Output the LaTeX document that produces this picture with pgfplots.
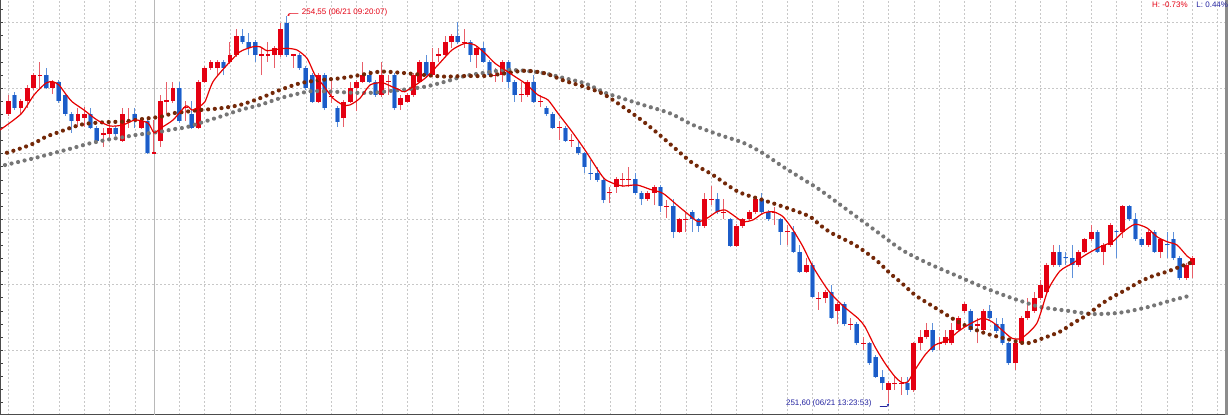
\documentclass[border=0pt]{standalone}
\usepackage{pgfplots}
\pgfplotsset{compat=1.18}
\usepackage{pgfplotstable}
\usepackage{fontspec}
\setmainfont{Liberation Sans}
\usetikzlibrary{arrows.meta}
\definecolor{cred}{RGB}{228,0,18}
\definecolor{credwick}{RGB}{232,95,105}
\definecolor{cblue}{RGB}{28,92,200}
\definecolor{cblueedge}{RGB}{125,170,232}
\definecolor{cbluewick}{RGB}{95,145,218}
\definecolor{cbrown}{RGB}{115,40,8}
\definecolor{cgray}{RGB}{118,118,118}
\definecolor{cma}{RGB}{230,0,0}
\definecolor{gridc}{RGB}{200,200,200}
\definecolor{cnavy}{RGB}{35,35,160}

% up candles (red): x open high low close
\pgfplotstableread{
x o h l c
1 253.803 253.948 253.788 253.902
3 253.849 253.917 253.803 253.902
4 253.902 254.024 253.851 254.003
5 254.003 254.116 253.986 254.100
6 254.096 254.202 254.003 254.104
8 254.003 254.062 253.955 254.049
12 253.749 253.851 253.706 253.803
13 253.772 253.856 253.704 253.803
16 253.646 253.698 253.553 253.654
17 253.648 253.749 253.599 253.698
19 253.599 253.851 253.589 253.803
20 253.745 253.851 253.698 253.753
22 253.698 253.765 253.688 253.749
24 253.501 253.757 253.498 253.509
25 253.599 253.948 253.553 253.902
26 253.898 254.049 253.803 253.906
27 253.902 254.049 253.887 254.003
29 253.847 253.902 253.749 253.855
31 253.698 254.062 253.688 254.049
32 254.049 254.169 254.039 254.152
33 254.154 254.215 254.139 254.200
34 254.154 254.215 254.100 254.200
36 254.200 254.352 254.184 254.253
37 254.253 254.452 254.238 254.398
41 254.249 254.307 254.100 254.257
42 254.249 254.352 254.200 254.257
43 254.253 254.322 254.154 254.307
44 254.253 254.497 254.238 254.452
46 254.249 254.262 254.154 254.257
50 253.897 254.116 253.887 254.100
52 253.929 254.062 253.887 253.937
54 253.772 253.910 253.706 253.897
55 253.897 254.049 253.887 253.999
56 253.999 254.062 253.826 254.049
57 254.049 254.202 254.039 254.100
60 253.948 254.202 253.933 254.100
61 254.045 254.100 253.948 254.053
63 253.872 253.948 253.833 253.925
64 253.897 253.963 253.887 253.948
65 253.948 254.116 253.933 254.100
66 254.049 254.215 254.039 254.202
68 254.100 254.307 254.085 254.202
69 254.249 254.307 254.200 254.257
70 254.253 254.398 254.238 254.350
71 254.350 254.413 254.307 254.400
73 254.346 254.452 254.307 254.354
75 254.253 254.322 254.154 254.304
78 254.096 254.154 254.049 254.104
79 254.100 254.215 254.049 254.202
82 253.944 254.049 253.897 253.952
83 253.948 254.062 253.933 254.049
85 253.893 253.948 253.856 253.901
88 253.694 253.749 253.604 253.702
90 253.600 253.650 253.553 253.608
96 253.196 253.248 253.123 253.204
97 253.248 253.322 253.200 253.304
98 253.300 253.352 253.248 253.308
99 253.300 253.400 253.248 253.308
102 253.152 253.215 253.139 253.202
103 253.202 253.261 253.108 253.248
105 253.096 253.146 253.009 253.104
107 252.904 253.009 252.894 252.999
108 252.995 253.047 252.904 253.003
111 252.948 253.202 252.933 253.152
112 253.148 253.253 253.108 253.156
114 253.048 253.152 252.999 253.056
116 252.797 252.963 252.788 252.948
117 252.948 253.009 252.933 252.999
118 252.999 253.070 252.986 253.052
119 253.052 253.162 253.039 253.152
122 253.048 253.095 252.955 253.056
124 252.900 252.955 252.803 252.908
127 252.599 252.701 252.589 252.650
129 252.392 252.446 252.307 252.400
130 252.396 252.459 252.358 252.446
132 252.299 252.368 252.197 252.352
134 252.193 252.248 252.154 252.201
136 252.048 252.103 252.001 252.056
140 251.696 251.765 251.600 251.747
141 251.743 251.797 251.696 251.751
142 251.743 251.797 251.658 251.751
144 251.696 252.062 251.681 252.052
145 252.052 252.154 252.001 252.098
146 252.098 252.205 252.085 252.154
148 252.048 252.103 252.001 252.056
149 252.052 252.154 252.039 252.098
150 252.052 252.205 252.039 252.154
151 252.154 252.261 252.139 252.248
152 252.299 252.368 252.284 252.352
154 252.188 252.248 252.052 252.196
155 252.154 252.314 252.139 252.299
160 251.900 252.062 251.849 252.052
161 252.052 252.261 252.039 252.248
162 252.248 252.396 252.230 252.299
163 252.299 252.446 252.284 252.396
164 252.396 252.536 252.383 252.497
165 252.446 252.665 252.436 252.650
166 252.650 252.803 252.635 252.752
170 252.650 252.765 252.635 252.752
171 252.752 252.856 252.742 252.846
172 252.846 252.955 252.833 252.904
174 252.752 252.818 252.650 252.803
175 252.803 252.971 252.788 252.955
177 252.904 253.108 252.856 253.100
181 252.803 252.917 252.788 252.904
183 252.752 252.856 252.701 252.846
187 252.549 252.665 252.536 252.650
188 252.650 252.719 252.549 252.701
}\redtab

% down candles (blue): x open high low close
\pgfplotstableread{
x o h l c
2 253.950 253.971 253.833 253.851
7 254.100 254.154 253.994 254.003
9 254.049 254.062 253.887 253.902
10 253.950 253.963 253.788 253.803
11 253.803 253.818 253.658 253.749
14 253.803 253.851 253.688 253.698
15 253.698 253.711 253.589 253.599
18 253.698 253.711 253.635 253.648
21 253.803 253.851 253.698 253.749
23 253.749 253.765 253.501 253.503
28 254.003 254.049 253.734 253.749
30 253.803 253.902 253.688 253.698
35 254.200 254.215 254.100 254.154
38 254.398 254.452 254.337 254.352
39 254.352 254.421 254.253 254.307
40 254.352 254.368 254.200 254.253
45 254.500 254.550 254.238 254.253
47 254.253 254.268 254.139 254.152
48 254.152 254.169 253.986 253.999
49 254.100 254.116 253.887 253.897
51 254.100 254.116 253.833 253.846
53 253.846 253.864 253.706 253.744
58 254.100 254.139 254.039 254.049
59 254.049 254.062 253.933 253.948
62 254.100 254.116 253.833 253.846
67 254.202 254.253 254.085 254.100
72 254.400 254.507 254.337 254.350
74 254.350 254.368 254.202 254.253
76 254.304 254.352 254.192 254.202
77 254.202 254.215 254.085 254.100
80 254.202 254.215 254.001 254.049
81 254.049 254.062 253.897 253.948
84 254.049 254.100 253.887 253.897
86 253.851 253.864 253.788 253.800
87 253.800 253.818 253.688 253.698
89 253.698 253.711 253.589 253.599
91 253.553 253.604 253.490 253.503
92 253.503 253.513 253.352 253.400
93 253.356 253.452 253.299 253.348
94 253.350 253.400 253.284 253.299
95 253.299 253.314 253.123 253.146
100 253.304 253.352 253.184 253.197
101 253.202 253.215 253.108 253.152
104 253.248 253.261 253.057 253.100
106 253.100 253.154 252.856 252.904
109 253.052 253.070 252.904 252.999
110 252.999 253.009 252.904 252.948
113 253.152 253.202 253.039 253.052
115 252.999 253.009 252.788 252.797
120 253.152 253.202 253.039 253.052
121 253.052 253.070 252.986 252.999
123 252.999 253.009 252.803 252.904
125 252.904 252.948 252.742 252.752
126 252.752 252.803 252.589 252.599
128 252.650 252.665 252.398 252.408
131 252.446 252.497 252.238 252.248
133 252.352 252.368 252.184 252.197
135 252.197 252.215 252.039 252.052
137 252.052 252.062 251.887 251.900
138 251.950 251.963 251.788 251.797
139 251.797 251.849 251.696 251.747
143 251.747 251.797 251.658 251.696
147 252.154 252.205 251.986 252.001
153 252.299 252.314 252.139 252.154
156 252.299 252.345 252.230 252.248
157 252.197 252.248 252.131 252.146
158 252.197 252.248 252.039 252.052
159 252.052 252.062 251.887 251.900
167 252.752 252.803 252.635 252.650
168 252.708 252.752 252.650 252.700
169 252.701 252.803 252.549 252.650
173 252.904 252.917 252.742 252.752
176 252.908 252.917 252.701 252.900
178 253.100 253.108 252.986 252.999
179 252.999 253.047 252.833 252.846
180 252.846 252.864 252.788 252.803
182 252.904 252.917 252.742 252.752
184 252.807 252.904 252.701 252.799
185 252.846 252.904 252.688 252.701
186 252.701 252.719 252.536 252.549
}\bluetab

\begin{document}
\begin{tikzpicture}
\begin{axis}[
  at={(0,0)}, anchor=south west,
  scale only axis, width=1225pt, height=415pt,
  xmin=-0.311, xmax=193.12, ymin=251.505, ymax=254.673,
  enlargelimits=false, clip=false,
  axis x line*=bottom, axis y line*=left,
  axis line style={draw=black!70, line width=1pt},
  xtick={1,5,9,13,17,21,28,32,...,192}, xticklabels={},
  xtick style={draw=none},
  extra x ticks={24}, extra x tick labels={},
  extra x tick style={grid=major, major grid style={solid, draw=black!28, line width=0.9pt}},
  ytick={252,252.5,...,254.5}, yticklabels={},
  minor ytick={251.6,251.7,...,254.6},
  ytick style={draw=black!75, line width=0.6pt},
  tick align=inside, major tick length=3pt, minor tick length=3pt,
  grid=major,
  major grid style={draw=gridc, line width=0.8pt, dash pattern=on 2pt off 2pt},
]
% wicks
\addplot[draw=none, mark=none, forget plot,
  error bars/.cd, y dir=plus, y explicit, error mark=none,
  error bar style={line width=1pt, draw=credwick, solid}]
  table[x=x, y=l, y error plus expr=\thisrow{h}-\thisrow{l}] {\redtab};
\addplot[draw=none, mark=none, forget plot,
  error bars/.cd, y dir=plus, y explicit, error mark=none,
  error bar style={line width=1pt, draw=cbluewick, solid}]
  table[x=x, y=l, y error plus expr=\thisrow{h}-\thisrow{l}] {\bluetab};
% bodies
\addplot[draw=none, mark=none, forget plot,
  error bars/.cd, y dir=plus, y explicit, error mark=none,
  error bar style={line width=4.9pt, draw=cred, solid}]
  table[x=x, y=o, y error plus expr=\thisrow{c}-\thisrow{o}] {\redtab};
\addplot[draw=none, mark=none, forget plot,
  error bars/.cd, y dir=plus, y explicit, error mark=none,
  error bar style={line width=5pt, draw=cblueedge, solid}]
  table[x=x, y=c, y error plus expr=\thisrow{o}-\thisrow{c}] {\bluetab};
\addplot[draw=none, mark=none, forget plot,
  error bars/.cd, y dir=plus, y explicit, error mark=none,
  error bar style={line width=3.6pt, draw=cblue, solid}]
  table[x=x, y=c, y error plus expr=\thisrow{o}-\thisrow{c}] {\bluetab};

% long moving average (gray dots)
\addplot[cgray, line width=4.2pt, line cap=round, dash pattern=on 0pt off 6.7pt, smooth, tension=0.5] coordinates {
(0.48,253.413) (5.06,253.465) (8.06,253.503) (11.06,253.541) (13.90,253.579)
(17.06,253.610) (19.11,253.625) (21.01,253.642) (23.06,253.655) (25.11,253.668)
(27.01,253.686) (29.06,253.701) (31.27,253.734) (34.43,253.782) (37.59,253.833)
(40.74,253.872) (43.90,253.923) (47.06,253.961) (49.11,253.978) (52.27,253.973)
(55.43,253.965) (58.59,253.965) (61.74,253.981) (63.64,253.990) (66.80,254.011)
(69.96,254.049) (73.11,254.093) (76.27,254.118) (79.43,254.139) (82.59,254.133)
(85.75,254.113) (88.90,254.075) (92.06,254.037) (95.22,253.965) (97.12,253.935)
(101.22,253.872) (105.48,253.808) (109.11,253.719) (113.38,253.642) (117.01,253.584)
(120.17,253.503) (123.33,253.400) (127.12,253.286) (129.17,253.223) (133.12,253.083)
(138.17,252.904) (142.12,252.765) (146.22,252.663) (150.48,252.574) (154.75,252.484)
(158.85,252.408) (161.22,252.370) (163.91,252.330) (168.17,252.301) (172.28,252.276)
(176.54,252.286) (180.80,252.327) (184.91,252.383) (188.07,252.421)
};
% middle moving average (brown dots)
\addplot[cbrown, line width=4.2pt, line cap=round, dash pattern=on 0pt off 6.7pt, smooth, tension=0.5] coordinates {
(0.79,253.507) (3.01,253.541) (5.06,253.579) (6.95,253.629) (9.01,253.665)
(11.06,253.701) (12.95,253.726) (15.01,253.736) (17.06,253.742) (19.11,253.744)
(21.01,253.757) (23.06,253.770) (25.11,253.782) (27.01,253.808) (29.06,253.820)
(31.27,253.833) (34.43,253.846) (37.59,253.872) (40.74,253.923) (43.90,253.986)
(47.06,254.037) (50.22,254.062) (53.38,254.075) (56.53,254.100) (59.69,254.126)
(62.85,254.118) (66.80,254.100) (69.96,254.088) (73.11,254.093) (76.27,254.093)
(79.43,254.113) (82.59,254.133) (85.75,254.113) (88.90,254.055) (92.06,254.009)
(95.22,253.948) (100.27,253.782) (103.43,253.660) (106.27,253.541) (109.11,253.426)
(112.27,253.337) (116.22,253.210) (120.17,253.146) (124.43,253.078) (127.59,253.019)
(129.17,252.955) (131.06,252.892) (134.22,252.816) (136.27,252.752) (138.33,252.675)
(140.22,252.587) (142.12,252.510) (144.17,252.421) (146.22,252.358) (148.12,252.301)
(150.48,252.230) (152.54,252.179) (155.22,252.129) (157.27,252.103) (159.96,252.070)
(161.85,252.052) (164.38,252.091) (167.06,252.141) (169.12,252.205) (171.33,252.268)
(173.38,252.345) (175.44,252.408) (177.65,252.465) (179.70,252.523) (181.75,252.566)
(183.96,252.599) (186.01,252.637) (187.59,252.665)
};
% short moving average (red line)
\addplot[cma, line width=1.2pt, smooth, tension=0.4] coordinates {
(-0.31,253.681) (3.01,253.803) (5.06,253.948) (6.95,254.039) (8.06,254.049)
(9.01,254.024) (9.95,253.963) (11.06,253.897) (12.95,253.833) (15.01,253.757)
(17.06,253.711) (19.11,253.719) (21.01,253.757) (23.06,253.734) (24.01,253.660)
(25.11,253.696) (27.01,253.757) (29.06,253.864) (30.01,253.833) (31.11,253.858)
(32.06,253.897) (33.32,254.049) (35.53,254.177) (37.59,254.278) (39.64,254.316)
(40.74,254.316) (41.85,254.286) (43.43,254.297) (45.01,254.304) (46.59,254.291)
(48.17,254.228) (49.43,254.100) (50.69,254.024) (52.27,253.923) (53.85,253.872)
(54.96,253.872) (56.53,253.923) (58.11,254.024) (60.01,254.042) (61.59,254.011)
(62.85,253.986) (63.64,253.973) (66.80,254.075) (68.85,254.177) (71.06,254.291)
(73.11,254.342) (74.69,254.329) (76.27,254.266) (77.85,254.190) (79.43,254.139)
(81.01,254.088) (82.59,254.037) (84.64,253.948) (86.22,253.910) (87.80,253.808)
(90.01,253.668) (92.06,253.528) (94.11,253.375) (95.22,253.304) (96.80,253.268)
(98.06,253.253) (100.27,253.261) (102.32,253.228) (104.37,253.197) (106.59,253.108)
(108.17,253.045) (109.90,252.981) (111.33,253.007) (112.90,253.057) (114.17,253.070)
(115.43,253.032) (117.01,252.981) (118.59,252.994) (120.17,253.045) (121.75,253.057)
(123.33,253.019) (124.91,252.917) (126.48,252.790) (128.06,252.637) (130.43,252.459)
(132.64,252.345) (135.17,252.243) (136.27,252.179) (137.85,252.026) (139.43,251.900)
(141.01,251.797) (142.12,251.752) (143.06,251.759) (144.17,251.849) (145.75,251.963)
(147.33,252.039) (149.38,252.078) (150.96,252.141) (152.54,252.192) (154.75,252.243)
(156.33,252.217) (157.90,252.154) (159.48,252.091) (161.06,252.093) (163.43,252.207)
(165.17,252.459) (167.06,252.604) (169.12,252.665) (171.33,252.734) (173.38,252.788)
(175.44,252.830) (177.01,252.902) (178.91,252.961) (180.80,252.933) (182.38,252.866)
(183.96,252.828) (185.54,252.803) (187.12,252.719) (188.07,252.688)
};

% right frame
\draw[draw=black!45, line width=2.5pt] ([xshift=1.3pt]rel axis cs:1,0) -- ([xshift=1.3pt]rel axis cs:1,1);

% annotations
\draw[cred, line width=0.6pt, -{Stealth[length=2.5pt,width=2.5pt]}] (axis cs:46.79,254.571) -- (axis cs:45.48,254.571) -- (axis cs:45.09,254.551);
\node[anchor=west, text=cred, inner sep=0pt, font=\fontsize{8}{9}\selectfont] at (axis cs:47.33,254.576) {254,55 (06/21 09:20:07)};
\node[anchor=east, text=cnavy, inner sep=0pt, font=\fontsize{8}{9}\selectfont] at (axis cs:137.33,251.593) {251,60 (06/21 13:23:53)};
\draw[cnavy, line width=0.6pt, -{Stealth[length=2.5pt,width=2.5pt]}] (axis cs:138.64,251.570) -- (axis cs:139.75,251.570) -- (axis cs:140.06,251.593);
\node[text=cred, inner sep=0pt, font=\fontsize{8}{9}\selectfont] at (axis cs:184.43,254.639) {H: -0.73\%};
\node[text=cnavy, inner sep=0pt, font=\fontsize{8}{9}\selectfont] at (axis cs:191.11,254.639) {L: 0.44\%};
\end{axis}
\pgfresetboundingbox
\path[use as bounding box] (0,-2pt) rectangle (1232pt,415pt);
\end{tikzpicture}
\end{document}
